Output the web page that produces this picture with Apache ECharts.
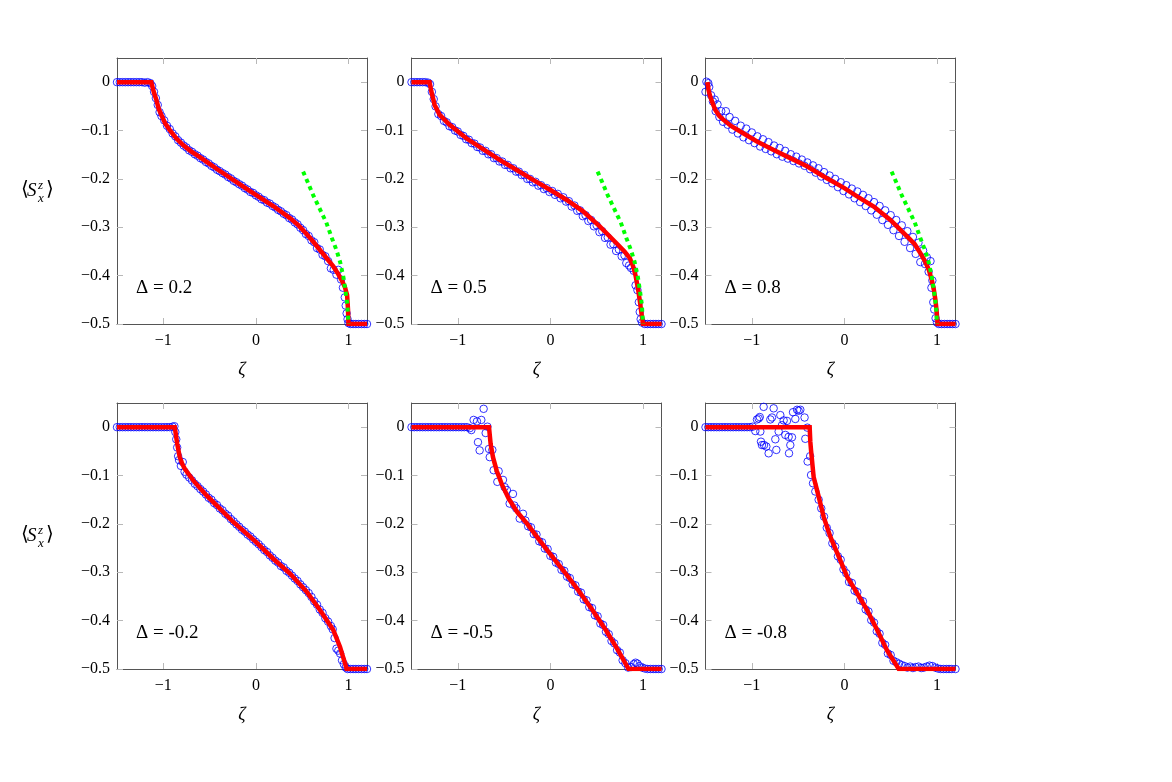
<!DOCTYPE html>
<html>
<head>
<meta charset="utf-8">
<script src="https://cdn.jsdelivr.net/npm/echarts@6/dist/echarts.min.js"></script>
<style>
html, body { margin: 0; padding: 0; background: #fff; }
#chart { width: 1172px; height: 782px; }
</style>
</head>
<body>
<div id="chart"></div>
<script>
// tick values and panel labels
const xTicks = [-1, 0, 1];
const yTicks = [0, -0.1, -0.2, -0.3, -0.4, -0.5];
const deltaLabels = ['0.2', '0.5', '0.8', '-0.2', '-0.5', '-0.8'];

// red curves (exact profile), one per panel
const theoryA = [[-1.5,0],[-1.13,0],[-1.10,-0.022],[-1.074,-0.037],[-1.05,-0.055],[-1.02,-0.068],[-0.98,-0.085],[-0.93,-0.099],[-0.86,-0.116],[-0.786,-0.130],[-0.70,-0.143],[-0.605,-0.155],[-0.50,-0.169],[-0.425,-0.179],[-0.245,-0.202],[-0.12,-0.218],[0,-0.233],[0.187,-0.256],[0.368,-0.281],[0.46,-0.296],[0.548,-0.314],[0.62,-0.330],[0.692,-0.347],[0.76,-0.363],[0.836,-0.381],[0.88,-0.394],[0.926,-0.409],[0.96,-0.423],[0.985,-0.44],[0.995,-0.47],[1.0,-0.5],[1.2,-0.5]];
const theoryB = [[-1.5,0],[-1.305,0],[-1.286,-0.019],[-1.25,-0.047],[-1.196,-0.0675],[-1.088,-0.088],[-0.908,-0.116],[-0.728,-0.1385],[-0.548,-0.1606],[-0.368,-0.181],[-0.187,-0.202],[0,-0.223],[0.173,-0.243],[0.353,-0.267],[0.533,-0.298],[0.714,-0.333],[0.80,-0.350],[0.858,-0.364],[0.894,-0.381],[0.92,-0.40],[0.948,-0.429],[0.968,-0.455],[0.984,-0.478],[1.0,-0.5],[1.2,-0.5]];
const theoryC = [[-1.48,0],[-1.465,-0.018],[-1.449,-0.0296],[-1.42,-0.045],[-1.395,-0.057],[-1.35,-0.07],[-1.305,-0.078],[-1.22,-0.091],[-1.124,-0.102],[-0.944,-0.1227],[-0.764,-0.140],[-0.584,-0.157],[-0.404,-0.174],[-0.223,-0.195],[0,-0.219],[0.137,-0.236],[0.317,-0.257],[0.497,-0.285],[0.677,-0.319],[0.76,-0.335],[0.822,-0.354],[0.87,-0.37],[0.912,-0.388],[0.945,-0.41],[0.966,-0.429],[0.983,-0.45],[0.995,-0.471],[1.003,-0.49],[1.007,-0.5],[1.2,-0.5]];
const theoryD = [[-1.5,0],[-0.876,0],[-0.850,-0.034],[-0.822,-0.062],[-0.795,-0.076],[-0.768,-0.086],[-0.677,-0.110],[-0.533,-0.141],[-0.389,-0.1685],[-0.245,-0.196],[0,-0.237],[0.187,-0.272],[0.368,-0.3026],[0.548,-0.340],[0.692,-0.378],[0.836,-0.4195],[0.908,-0.454],[0.962,-0.488],[0.980,-0.5],[1.2,-0.5]];
const theoryE = [[-1.5,0],[-0.663,0],[-0.645,-0.035],[-0.62,-0.062],[-0.58,-0.09],[-0.52,-0.12],[-0.45,-0.148],[-0.36,-0.175],[-0.25,-0.2],[-0.1,-0.238],[0.05,-0.275],[0.155,-0.3],[0.3,-0.337],[0.45,-0.377],[0.6,-0.42],[0.72,-0.458],[0.845,-0.5],[1.2,-0.5]];
const theoryF = [[-1.5,0],[-0.375,0],[-0.368,-0.03],[-0.360,-0.048],[-0.332,-0.103],[-0.277,-0.144],[-0.223,-0.186],[-0.151,-0.227],[-0.061,-0.2675],[0.029,-0.309],[0.137,-0.343],[0.245,-0.378],[0.353,-0.419],[0.461,-0.4615],[0.587,-0.5],[1.2,-0.5]];

// green dotted light-cone asymptote (top row)
const edgeCurve = [[0.51,-0.185],[0.56,-0.207],[0.62,-0.234],[0.69,-0.262],[0.76,-0.29],[0.82,-0.322],[0.87,-0.347],[0.91,-0.372],[0.945,-0.403],[0.97,-0.435],[0.988,-0.46],[1.0,-0.5]];

// blue circles (numerics), one per panel
const numA = [[-1.5,0],[-1.47,0],[-1.44,0],[-1.41,0],[-1.38,0],[-1.35,0],[-1.32,0],[-1.29,0],[-1.26,0],[-1.23,0],[-1.2,-0.001],[-1.17,0],[-1.14,-0.002],[-1.12,-0.008],[-1.10,-0.02],[-1.08,-0.033],[-1.06,-0.047],[-1.04,-0.062],[-1.02,-0.07],[-0.99,-0.079],[-0.96,-0.09],[-0.93,-0.097],[-0.90,-0.106],[-0.87,-0.112],[-0.84,-0.12],[-0.81,-0.125],[-0.78,-0.131],[-0.75,-0.135],[-0.72,-0.141],[-0.69,-0.144],[-0.66,-0.149],[-0.63,-0.152],[-0.60,-0.157],[-0.57,-0.16],[-0.54,-0.165],[-0.51,-0.168],[-0.48,-0.173],[-0.45,-0.176],[-0.42,-0.181],[-0.39,-0.184],[-0.36,-0.188],[-0.33,-0.191],[-0.30,-0.196],[-0.27,-0.199],[-0.24,-0.204],[-0.21,-0.207],[-0.18,-0.211],[-0.15,-0.214],[-0.12,-0.219],[-0.09,-0.222],[-0.06,-0.227],[-0.03,-0.229],[0,-0.234],[0.03,-0.237],[0.06,-0.242],[0.09,-0.244],[0.12,-0.249],[0.15,-0.251],[0.18,-0.256],[0.21,-0.259],[0.24,-0.264],[0.27,-0.267],[0.30,-0.272],[0.33,-0.275],[0.36,-0.281],[0.39,-0.284],[0.42,-0.29],[0.45,-0.294],[0.48,-0.301],[0.51,-0.306],[0.54,-0.314],[0.57,-0.318],[0.60,-0.327],[0.63,-0.331],[0.66,-0.343],[0.69,-0.346],[0.72,-0.357],[0.75,-0.36],[0.78,-0.37],[0.81,-0.385],[0.84,-0.388],[0.87,-0.398],[0.89,-0.388],[0.92,-0.408],[0.94,-0.425],[0.96,-0.445],[0.97,-0.462],[0.98,-0.478],[0.99,-0.49],[1.0,-0.498],[1.02,-0.5],[1.05,-0.5],[1.08,-0.5],[1.11,-0.5],[1.14,-0.5],[1.17,-0.5],[1.2,-0.5]];
const numB = [[-1.5,0],[-1.47,0],[-1.44,0],[-1.41,0],[-1.38,0],[-1.35,0],[-1.32,-0.001],[-1.30,-0.004],[-1.28,-0.02],[-1.26,-0.035],[-1.24,-0.05],[-1.21,-0.066],[-1.18,-0.07],[-1.15,-0.08],[-1.12,-0.083],[-1.09,-0.091],[-1.06,-0.093],[-1.03,-0.1],[-1.0,-0.102],[-0.97,-0.109],[-0.94,-0.111],[-0.91,-0.118],[-0.88,-0.119],[-0.85,-0.126],[-0.82,-0.127],[-0.79,-0.134],[-0.76,-0.135],[-0.73,-0.142],[-0.70,-0.142],[-0.67,-0.149],[-0.64,-0.149],[-0.61,-0.157],[-0.58,-0.157],[-0.55,-0.164],[-0.52,-0.164],[-0.49,-0.171],[-0.46,-0.171],[-0.43,-0.178],[-0.40,-0.178],[-0.37,-0.185],[-0.34,-0.185],[-0.31,-0.192],[-0.28,-0.192],[-0.25,-0.2],[-0.22,-0.2],[-0.19,-0.207],[-0.16,-0.206],[-0.13,-0.214],[-0.10,-0.213],[-0.07,-0.221],[-0.04,-0.219],[-0.01,-0.227],[0.02,-0.225],[0.05,-0.233],[0.08,-0.231],[0.11,-0.24],[0.14,-0.238],[0.17,-0.247],[0.20,-0.246],[0.23,-0.257],[0.26,-0.255],[0.29,-0.266],[0.32,-0.265],[0.35,-0.277],[0.38,-0.275],[0.41,-0.287],[0.44,-0.285],[0.47,-0.298],[0.50,-0.296],[0.53,-0.31],[0.56,-0.308],[0.59,-0.322],[0.62,-0.321],[0.65,-0.336],[0.68,-0.335],[0.71,-0.349],[0.74,-0.346],[0.77,-0.36],[0.80,-0.358],[0.82,-0.374],[0.85,-0.379],[0.87,-0.384],[0.90,-0.39],[0.92,-0.42],[0.94,-0.43],[0.955,-0.455],[0.965,-0.475],[0.975,-0.49],[0.99,-0.497],[1.02,-0.5],[1.05,-0.5],[1.08,-0.5],[1.11,-0.5],[1.14,-0.5],[1.17,-0.5],[1.2,-0.5]];
const numC = [[-1.50,-0.02],[-1.49,0.001],[-1.47,-0.002],[-1.46,-0.01],[-1.44,-0.027],[-1.42,-0.04],[-1.40,-0.036],[-1.39,-0.06],[-1.37,-0.046],[-1.35,-0.072],[-1.33,-0.06],[-1.31,-0.082],[-1.28,-0.06],[-1.26,-0.088],[-1.24,-0.072],[-1.21,-0.098],[-1.18,-0.08],[-1.15,-0.106],[-1.12,-0.09],[-1.09,-0.114],[-1.06,-0.096],[-1.03,-0.12],[-1.0,-0.104],[-0.97,-0.126],[-0.94,-0.112],[-0.91,-0.133],[-0.88,-0.118],[-0.85,-0.138],[-0.82,-0.124],[-0.79,-0.143],[-0.76,-0.131],[-0.73,-0.149],[-0.70,-0.136],[-0.67,-0.154],[-0.64,-0.142],[-0.61,-0.158],[-0.58,-0.149],[-0.55,-0.163],[-0.52,-0.154],[-0.49,-0.168],[-0.46,-0.16],[-0.43,-0.173],[-0.40,-0.166],[-0.37,-0.18],[-0.34,-0.172],[-0.31,-0.187],[-0.28,-0.178],[-0.25,-0.195],[-0.22,-0.186],[-0.19,-0.202],[-0.16,-0.193],[-0.13,-0.209],[-0.10,-0.2],[-0.07,-0.217],[-0.04,-0.207],[-0.01,-0.225],[0.02,-0.213],[0.05,-0.232],[0.08,-0.22],[0.11,-0.24],[0.14,-0.226],[0.17,-0.248],[0.20,-0.233],[0.23,-0.256],[0.26,-0.24],[0.29,-0.265],[0.32,-0.248],[0.35,-0.274],[0.38,-0.256],[0.41,-0.285],[0.44,-0.265],[0.47,-0.295],[0.50,-0.275],[0.53,-0.306],[0.56,-0.285],[0.59,-0.318],[0.62,-0.296],[0.65,-0.33],[0.68,-0.308],[0.71,-0.343],[0.74,-0.32],[0.77,-0.355],[0.80,-0.332],[0.82,-0.372],[0.85,-0.348],[0.87,-0.376],[0.89,-0.362],[0.91,-0.392],[0.93,-0.37],[0.94,-0.425],[0.95,-0.41],[0.96,-0.455],[0.97,-0.47],[0.985,-0.488],[1.0,-0.497],[1.02,-0.5],[1.05,-0.5],[1.08,-0.5],[1.11,-0.5],[1.14,-0.5],[1.17,-0.5],[1.2,-0.5]];
const numD = [[-1.5,0],[-1.47,0],[-1.44,0],[-1.41,0],[-1.38,0],[-1.35,0],[-1.32,0],[-1.29,0],[-1.26,0],[-1.23,0],[-1.2,0],[-1.17,0],[-1.14,0],[-1.11,0],[-1.08,0],[-1.05,0],[-1.02,0],[-0.99,0],[-0.96,0],[-0.93,0],[-0.90,0.001],[-0.88,0.002],[-0.87,-0.01],[-0.86,-0.025],[-0.85,-0.042],[-0.84,-0.06],[-0.83,-0.068],[-0.81,-0.08],[-0.79,-0.072],[-0.77,-0.092],[-0.75,-0.098],[-0.72,-0.104],[-0.69,-0.11],[-0.66,-0.117],[-0.63,-0.122],[-0.60,-0.128],[-0.57,-0.133],[-0.54,-0.139],[-0.51,-0.146],[-0.48,-0.15],[-0.45,-0.157],[-0.42,-0.161],[-0.39,-0.168],[-0.36,-0.172],[-0.33,-0.179],[-0.30,-0.183],[-0.27,-0.19],[-0.24,-0.195],[-0.21,-0.201],[-0.18,-0.206],[-0.15,-0.212],[-0.12,-0.216],[-0.09,-0.222],[-0.06,-0.226],[-0.03,-0.232],[0,-0.237],[0.03,-0.242],[0.06,-0.248],[0.09,-0.254],[0.12,-0.258],[0.15,-0.265],[0.18,-0.27],[0.21,-0.276],[0.24,-0.28],[0.27,-0.287],[0.30,-0.29],[0.33,-0.297],[0.36,-0.301],[0.39,-0.307],[0.42,-0.313],[0.45,-0.318],[0.48,-0.325],[0.51,-0.331],[0.54,-0.337],[0.57,-0.343],[0.60,-0.351],[0.63,-0.36],[0.66,-0.367],[0.69,-0.377],[0.72,-0.384],[0.75,-0.395],[0.78,-0.402],[0.81,-0.411],[0.83,-0.418],[0.85,-0.436],[0.87,-0.458],[0.89,-0.462],[0.91,-0.468],[0.93,-0.482],[0.95,-0.49],[0.97,-0.497],[0.99,-0.5],[1.02,-0.5],[1.05,-0.5],[1.08,-0.5],[1.11,-0.5],[1.14,-0.5],[1.17,-0.5],[1.2,-0.5]];
const numE = [[-1.5,0],[-1.47,0],[-1.44,0],[-1.41,0],[-1.38,0],[-1.35,0],[-1.32,0],[-1.29,0],[-1.26,0],[-1.23,0],[-1.2,0],[-1.17,0],[-1.14,0],[-1.11,0],[-1.08,0],[-1.05,0],[-1.02,0],[-0.99,0],[-0.96,0],[-0.93,0],[-0.90,0],[-0.87,-0.002],[-0.854,-0.006],[-0.829,0.015],[-0.793,0.012],[-0.782,-0.031],[-0.764,-0.048],[-0.746,0.015],[-0.721,0.038],[-0.699,-0.012],[-0.68,0.001],[-0.663,-0.045],[-0.655,-0.062],[-0.627,-0.047],[-0.613,-0.089],[-0.573,-0.113],[-0.559,-0.091],[-0.512,-0.109],[-0.494,-0.124],[-0.47,-0.13],[-0.44,-0.158],[-0.404,-0.138],[-0.39,-0.162],[-0.368,-0.168],[-0.331,-0.189],[-0.296,-0.179],[-0.27,-0.193],[-0.24,-0.205],[-0.21,-0.207],[-0.18,-0.221],[-0.15,-0.222],[-0.12,-0.236],[-0.09,-0.238],[-0.06,-0.251],[-0.03,-0.252],[0,-0.266],[0.03,-0.268],[0.06,-0.28],[0.09,-0.283],[0.12,-0.295],[0.15,-0.297],[0.18,-0.309],[0.21,-0.312],[0.24,-0.325],[0.27,-0.327],[0.30,-0.34],[0.33,-0.342],[0.36,-0.356],[0.39,-0.358],[0.42,-0.372],[0.45,-0.374],[0.48,-0.389],[0.51,-0.391],[0.54,-0.406],[0.57,-0.409],[0.60,-0.423],[0.63,-0.428],[0.66,-0.442],[0.69,-0.447],[0.72,-0.461],[0.75,-0.466],[0.78,-0.482],[0.81,-0.488],[0.84,-0.497],[0.87,-0.496],[0.90,-0.49],[0.92,-0.487],[0.94,-0.489],[0.96,-0.494],[0.99,-0.497],[1.02,-0.499],[1.05,-0.5],[1.08,-0.5],[1.11,-0.5],[1.14,-0.5],[1.17,-0.5],[1.2,-0.5]];
const numF = [[-1.5,0],[-1.47,0],[-1.44,0],[-1.41,0],[-1.38,0],[-1.35,0],[-1.32,0],[-1.29,0],[-1.26,0],[-1.23,0],[-1.2,0],[-1.17,0],[-1.14,0],[-1.11,0],[-1.08,0],[-1.05,0],[-1.02,0],[-0.99,0.001],[-0.962,-0.008],[-0.944,0.016],[-0.926,0.018],[-0.914,0.021],[-0.908,-0.009],[-0.901,-0.03],[-0.89,-0.037],[-0.872,0.042],[-0.868,-0.037],[-0.843,-0.04],[-0.818,-0.054],[-0.80,0.016],[-0.782,0.02],[-0.764,0.039],[-0.746,-0.025],[-0.735,-0.047],[-0.71,-0.009],[-0.692,0.025],[-0.674,0.004],[-0.656,0.014],[-0.638,-0.016],[-0.62,0.013],[-0.602,-0.02],[-0.598,-0.054],[-0.584,-0.037],[-0.566,-0.021],[-0.555,0.031],[-0.53,0.017],[-0.511,0.036],[-0.494,0.034],[-0.476,0.036],[-0.43,0.02],[-0.422,-0.024],[-0.40,-0.001],[-0.397,-0.071],[-0.37,-0.06],[-0.36,-0.099],[-0.339,-0.116],[-0.314,-0.133],[-0.278,-0.15],[-0.25,-0.168],[-0.22,-0.185],[-0.19,-0.208],[-0.16,-0.219],[-0.13,-0.24],[-0.10,-0.247],[-0.07,-0.267],[-0.04,-0.274],[-0.01,-0.294],[0.02,-0.302],[0.05,-0.32],[0.08,-0.322],[0.11,-0.338],[0.14,-0.341],[0.17,-0.358],[0.20,-0.36],[0.23,-0.377],[0.26,-0.381],[0.29,-0.399],[0.32,-0.404],[0.35,-0.422],[0.38,-0.427],[0.41,-0.446],[0.44,-0.45],[0.47,-0.468],[0.50,-0.471],[0.53,-0.483],[0.56,-0.486],[0.59,-0.489],[0.62,-0.492],[0.65,-0.494],[0.68,-0.497],[0.71,-0.495],[0.74,-0.498],[0.77,-0.496],[0.80,-0.495],[0.83,-0.498],[0.86,-0.497],[0.89,-0.495],[0.92,-0.493],[0.95,-0.494],[0.98,-0.497],[1.01,-0.499],[1.04,-0.5],[1.07,-0.5],[1.10,-0.5],[1.13,-0.5],[1.16,-0.5],[1.2,-0.5]];

const theories = [theoryA, theoryB, theoryC, theoryD, theoryE, theoryF];
const numerics = [numA, numB, numC, numD, numE, numF];

const chart = echarts.init(document.getElementById('chart'));

const panelLeft = [117, 411.5, 705.5];
const panelTop = [58, 403];
const panelW = 250;
const panelH = 266;
const FONT = "'Liberation Serif', 'DejaVu Serif', serif";

function fmtTick(v) {
  if (Math.abs(v) < 1e-9) return '0';
  return v < 0 ? '\u2212' + String(Math.abs(v)) : String(v);
}

const grids = [], xAxes = [], yAxes = [], series = [], graphics = [];

for (let i = 0; i < 6; i++) {
  const col = i % 3, row = Math.floor(i / 3);
  grids.push({ left: panelLeft[col], top: panelTop[row], width: panelW, height: panelH, containLabel: false });
  const tickStyle = { show: true, inside: true, length: 6, lineStyle: { color: '#b8b8b8', width: 1 } };
  const lineStyle = { show: true, onZero: false, lineStyle: { color: '#555', width: 1 } };
  ['bottom', 'top'].forEach(function (pos) {
    xAxes.push({
      gridIndex: i, type: 'value', position: pos, min: -1.5, max: 1.2,
      axisLine: lineStyle,
      axisTick: Object.assign({ customValues: xTicks }, tickStyle),
      axisLabel: {
        show: pos === 'bottom', customValues: xTicks, formatter: fmtTick,
        color: '#000', fontFamily: FONT, fontSize: 16, margin: 9
      },
      splitLine: { show: false },
      name: pos === 'bottom' ? 'ζ' : '',
      nameLocation: 'middle', nameGap: 37,
      nameTextStyle: { fontFamily: FONT, fontStyle: 'italic', fontSize: 18, color: '#000' }
    });
  });
  ['left', 'right'].forEach(function (pos) {
    yAxes.push({
      gridIndex: i, type: 'value', position: pos, min: -0.5, max: 0.05,
      axisLine: lineStyle,
      axisTick: Object.assign({ customValues: yTicks }, tickStyle),
      axisLabel: {
        show: pos === 'left', customValues: yTicks, formatter: fmtTick,
        color: '#000', fontFamily: FONT, fontSize: 16, margin: 7
      },
      splitLine: { show: false }
    });
  });

  series.push({
    type: 'scatter', xAxisIndex: 2 * i, yAxisIndex: 2 * i, data: numerics[i],
    symbol: 'circle', symbolSize: 7.5, clip: false, z: 2,
    itemStyle: { color: 'rgba(0,0,0,0)', borderColor: '#0000ff', borderWidth: 1 },
    emphasis: { disabled: true }
  });
  series.push({
    type: 'line', xAxisIndex: 2 * i, yAxisIndex: 2 * i, data: theories[i],
    showSymbol: false, symbol: 'none', z: 3,
    lineStyle: { color: '#ff0000', width: 4.5, join: 'miter' }
  });
  if (row === 0) {
    series.push({
      type: 'line', xAxisIndex: 2 * i, yAxisIndex: 2 * i, data: edgeCurve,
      showSymbol: false, symbol: 'none', z: 4,
      lineStyle: { color: '#00ff00', width: 4, type: [4, 4], cap: 'butt' }
    });
  }

  graphics.push({
    type: 'text', left: panelLeft[col] + 19, top: panelTop[row] + 221,
    style: { text: 'Δ\u2005=\u2005' + deltaLabels[i], fontFamily: FONT, fontSize: 19, fill: '#000' }
  });
}

// y-axis label  <S^z_x>  for the left column
[192, 537].forEach(function (cy) {
  graphics.push({ type: 'text', x: 21, y: cy - 12, style: { text: '⟨', fontFamily: FONT, fontSize: 20, fill: '#000' } });
  graphics.push({ type: 'text', x: 27, y: cy - 11, style: { text: 'S', fontFamily: FONT, fontStyle: 'italic', fontSize: 19, fill: '#000' } });
  graphics.push({ type: 'text', x: 38, y: cy - 13, style: { text: 'z', fontFamily: FONT, fontStyle: 'italic', fontSize: 13, fill: '#000' } });
  graphics.push({ type: 'text', x: 38, y: cy, style: { text: 'x', fontFamily: FONT, fontStyle: 'italic', fontSize: 13, fill: '#000' } });
  graphics.push({ type: 'text', x: 46, y: cy - 12, style: { text: '⟩', fontFamily: FONT, fontSize: 20, fill: '#000' } });
});

chart.setOption({
  animation: false,
  backgroundColor: '#ffffff',
  grid: grids,
  xAxis: xAxes,
  yAxis: yAxes,
  series: series,
  graphic: graphics
});
</script>
</body>
</html>
